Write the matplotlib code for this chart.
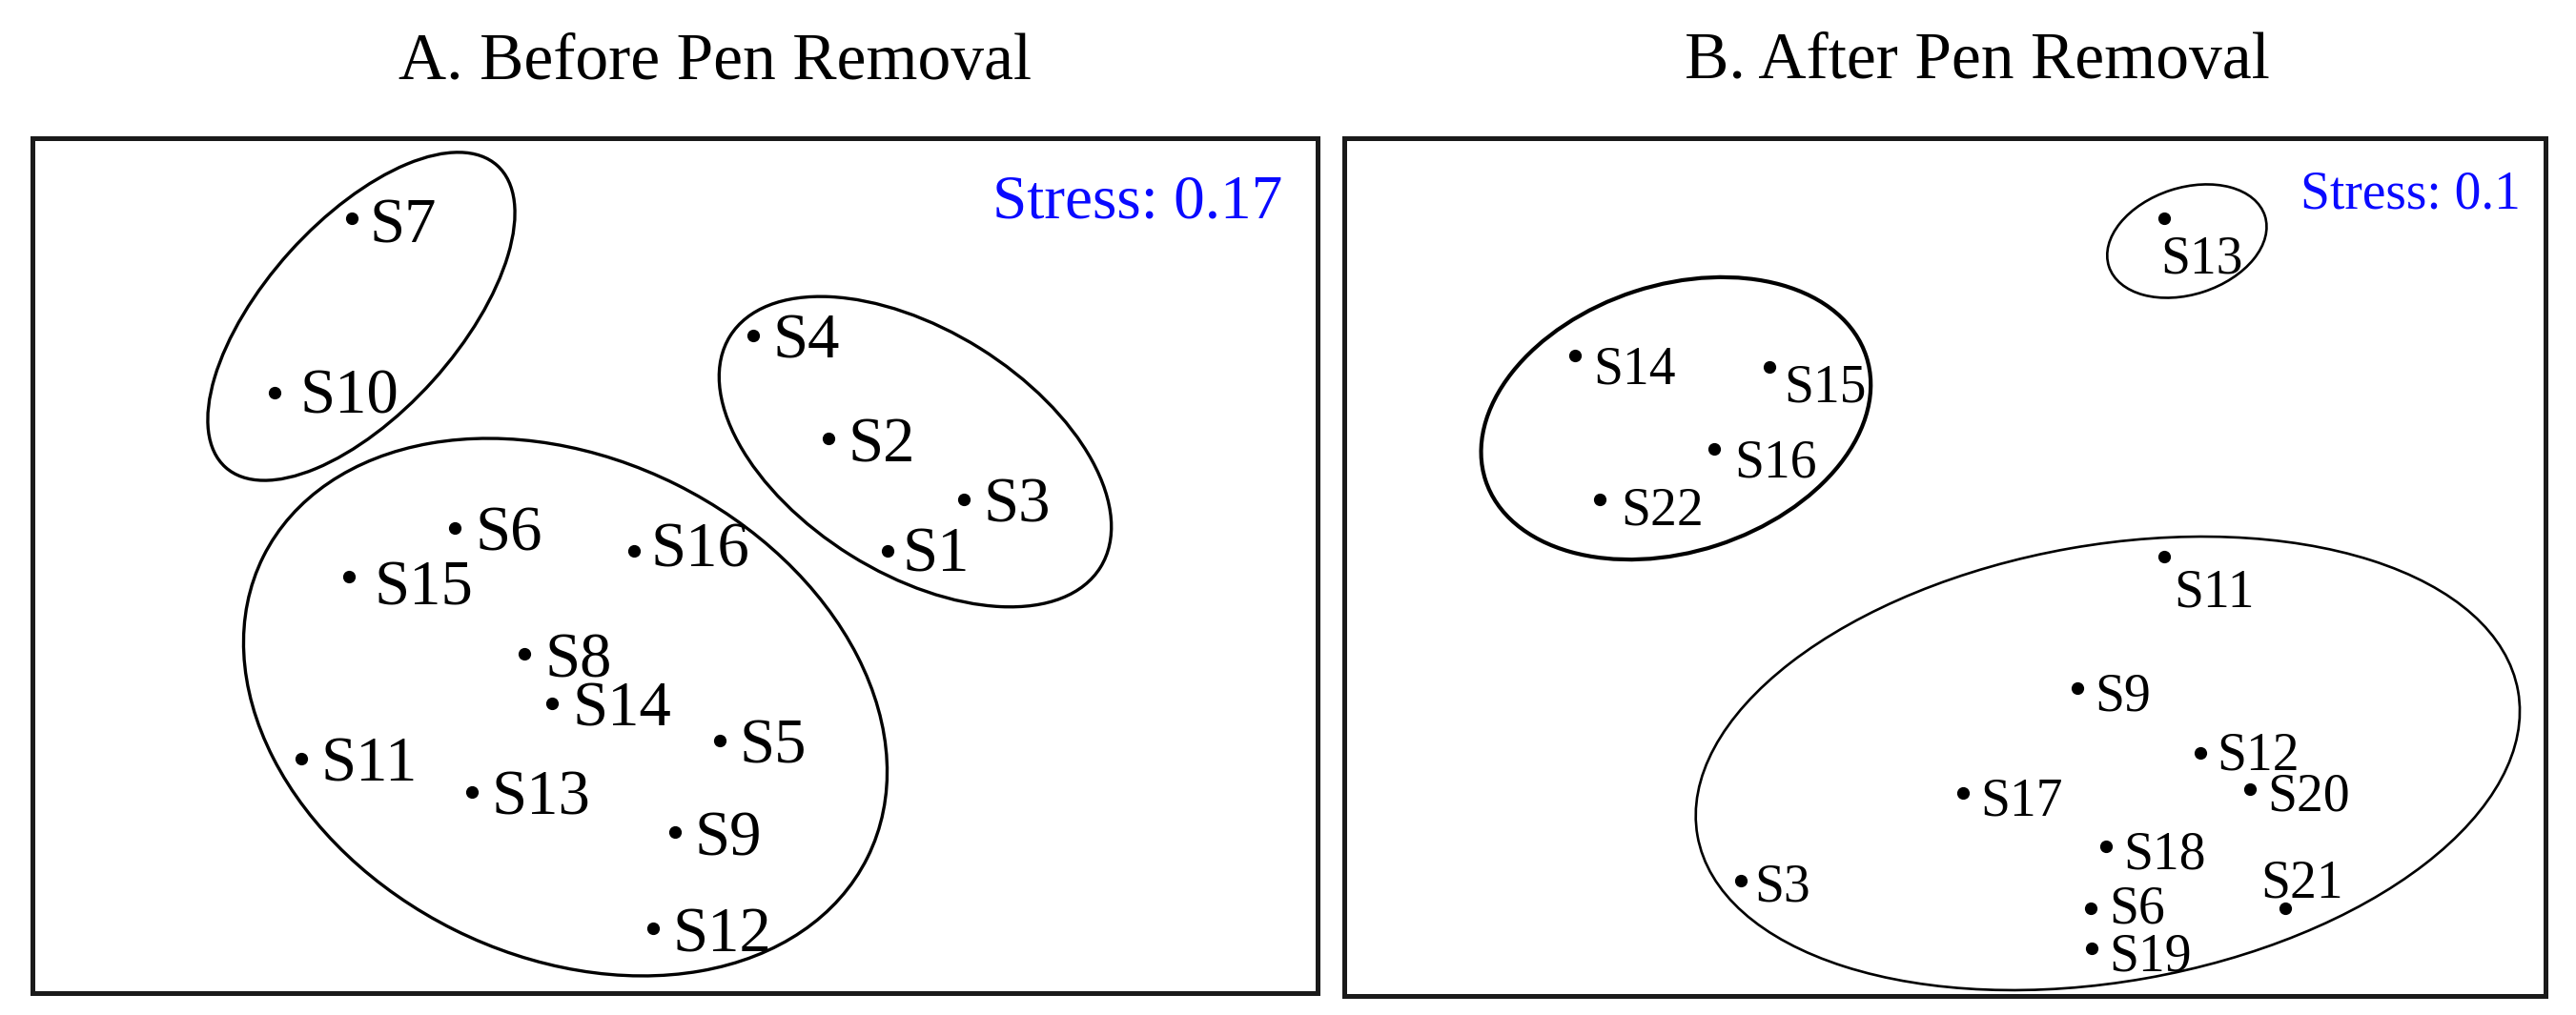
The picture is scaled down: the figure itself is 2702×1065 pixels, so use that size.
import matplotlib

matplotlib.use("Agg")
import matplotlib.pyplot as plt
from matplotlib.patches import Ellipse

plt.rcParams["font.family"] = ["Liberation Serif", "DejaVu Serif"]

# NMDS coordinates (arbitrary units)
sites_a = ["S1", "S2", "S3", "S4", "S5", "S6", "S7", "S8",
           "S9", "S10", "S11", "S12", "S13", "S14", "S15", "S16"]
nmds1_a = [0.445, 0.321, 0.605, 0.163, 0.093, -0.462, -0.677, -0.316,
           -0.001, -0.840, -0.784, -0.047, -0.427, -0.258, -0.684, -0.086]
nmds2_a = [0.031, 0.266, 0.139, 0.483, -0.367, 0.079, 0.728, -0.186,
           -0.560, 0.362, -0.405, -0.762, -0.475, -0.289, -0.023, 0.031]

sites_b = ["S3", "S6", "S9", "S11", "S12", "S13", "S14", "S15",
           "S16", "S17", "S18", "S19", "S20", "S21", "S22"]
nmds1_b = [-0.428, 0.306, 0.279, 0.460, 0.536, 0.460, -0.775, -0.367,
           -0.484, 0.038, 0.338, 0.308, 0.640, 0.714, -0.723]
nmds2_b = [-0.659, -0.717, -0.255, 0.022, -0.390, 0.731, 0.444, 0.420,
           0.248, -0.475, -0.587, -0.801, -0.466, -0.717, 0.142]

# cluster ellipses: centre x, centre y, width, height, angle
ell_cx_a = [-0.658, 0.504, -0.230]
ell_cy_a = [0.523, 0.239, -0.297]
ell_w_a = [0.852, 0.916, 1.416]
ell_h_a = [0.404, 0.512, 1.044]
ell_ang_a = [48, -32, -26.5]

ell_cx_b = [-0.564, 0.342, 0.508]
ell_cy_b = [0.312, -0.412, 0.684]
ell_w_b = [0.84, 1.748, 0.344]
ell_h_b = [0.56, 0.916, 0.224]
ell_ang_b = [18, 10, 18]

stress_a = 0.17
stress_b = 0.1

titles = ["A. Before Pen Removal", "B. After Pen Removal"]

# label offsets in pixels (baseline placement)
offset_a = {"S7": (18, -25), "S10": (27, -21), "S15": (27, -30),
            "S16": (17, -17), "S1": (16, -22)}
offset_b = {"S14": (19, -30), "S15": (15, -37), "S16": (21, -30),
            "S22": (22, -27), "S3": (14, -21), "S6": (19, -15),
            "S12": (17, -18), "S13": (-4, -57), "S11": (10, -53),
            "S21": (-26, 12)}


def draw_panel(ax, sites, xs, ys, ecx, ecy, ew, eh, eang, elw,
               offsets, default_off, label_size, stress, stress_pos, stress_size):
    ax.plot(xs, ys, "o", color="black", markersize=8.5, zorder=3)
    for name, x, y in zip(sites, xs, ys):
        dx, dy = offsets.get(name, default_off)
        ax.annotate(name, (x, y), xytext=(dx, dy), textcoords="offset pixels",
                    ha="left", va="baseline", fontsize=label_size, zorder=4)
    for cx, cy, w, h, ang, lw in zip(ecx, ecy, ew, eh, eang, elw):
        ax.add_patch(Ellipse((cx, cy), w, h, angle=ang, fill=False,
                             edgecolor="black", linewidth=lw, zorder=2))
    ax.text(stress_pos[0], stress_pos[1], f"Stress: {stress}", transform=ax.transAxes,
            ha="right", va="baseline", color="#0a0aff", fontsize=stress_size)
    ax.set_xticks([])
    ax.set_yticks([])
    for sp in ax.spines.values():
        sp.set_linewidth(3.6)
        sp.set_color("#1a1a1a")


fig = plt.figure(figsize=(27.02, 10.65), dpi=100)

ax_a = fig.add_axes([0.01258, 0.0216, 0.4989, 0.8423])
ax_a.set_xlim(-1.348, 1.348)
ax_a.set_ylim(-0.897, 0.897)
draw_panel(ax_a, sites_a, nmds1_a, nmds2_a, ell_cx_a, ell_cy_a, ell_w_a, ell_h_a,
           ell_ang_a, [2.4, 2.4, 2.4], offset_a, (21, -24), 48,
           stress_a, (0.973, 0.907), 47)

ax_b = fig.add_axes([0.5218, 0.01878, 0.4663, 0.8451])
ax_b.set_xlim(-1.26, 1.26)
ax_b.set_ylim(-0.9, 0.9)
draw_panel(ax_b, sites_b, nmds1_b, nmds2_b, ell_cx_b, ell_cy_b, ell_w_b, ell_h_b,
           ell_ang_b, [3.0, 1.9, 1.9], offset_b, (18, -23), 40,
           stress_b, (0.979, 0.918), 40)

fig.text(750 / 2702, 1 - 83 / 1065, titles[0], ha="center", va="baseline", fontsize=50)
fig.text(2074 / 2702, 1 - 82 / 1065, titles[1], ha="center", va="baseline", fontsize=50)

fig.savefig("out.png", dpi=100)
